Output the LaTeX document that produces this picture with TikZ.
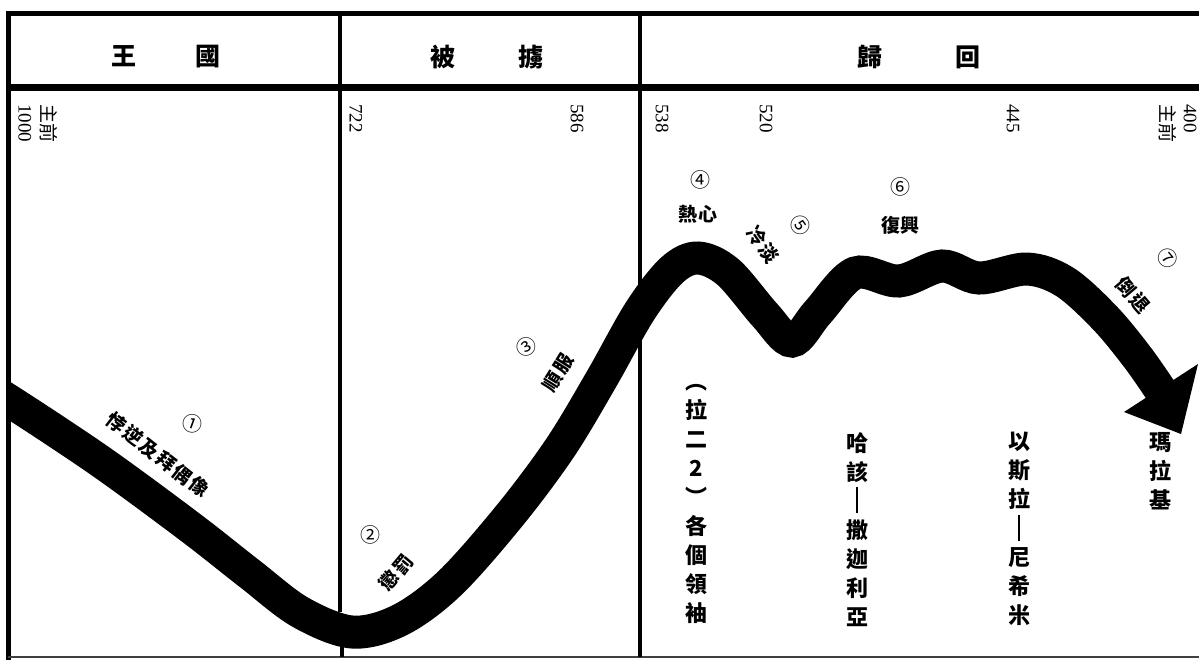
\documentclass[tikz,border=0pt]{standalone}
\usepackage{fontspec}
\setmainfont{Liberation Serif}
\newfontfamily\cjk{Noto Sans CJK TC}
\usetikzlibrary{positioning}
\tikzset{
  frame/.style={line width=2.5pt},
  divider/.style={line width=2pt},
  band/.style={line width=16.5pt},
  hdr/.style={font=\cjk\bfseries\fontsize{12.5}{12.5}\selectfont},
  yr/.style={rotate=-90,inner sep=0pt,align=left,font=\fontsize{9.5}{11.5}\selectfont},
  num/.style={inner sep=0pt,font=\cjk\fontsize{10}{10}\selectfont},
  lbl/.style={inner sep=0pt,font=\cjk\bfseries\fontsize{9.5}{9.5}\selectfont},
  col/.style={anchor=north,inner sep=0pt,align=center,font=\cjk\bfseries\fontsize{11}{14.5}\selectfont}
}
\newcommand{\vdashline}{\rule[-2pt]{1pt}{13pt}}
\newcommand{\gap}{\hspace{0.1em}}

\begin{document}
\begin{tikzpicture}[x=0.5pt,y=-0.5pt]
  \useasboundingbox (0,0) rectangle (1199,660);

  % frame and columns
  \draw[frame] (8,660) -- (8,13) -- (1199,13);
  \draw[line width=3.5pt] (8,87) -- (1199,87);
  \draw[line width=1pt,black!75] (8,657) -- (1199,657);
  \draw[divider] (340,12) -- (340,612);
  \draw[divider] (342,640) -- (342,657);
  \draw[divider] (640,12) -- (640,657);

  % headings
  \node[hdr] (kingdom) at (166,57) {王\hspace{2.4em}國};
  \node[hdr] (exile) at (487,57) {被\hspace{2.5em}擄};
  \node[hdr] (return) at (919,57) {歸\hspace{2.9em}回};

  % years
  \node[yr,anchor=north west] (y1000) at (58,104) {{\cjk 主前}\\1000};
  \node[yr,anchor=west] (y722) at (356,104) {722};
  \node[yr,anchor=west] (y586) at (577,104) {586};
  \node[yr,anchor=west] (y538) at (662,104) {538};
  \node[yr,anchor=west] (y520) at (766,104) {520};
  \node[yr,anchor=west] (y445) at (1013,104) {445};
  \node[yr,anchor=north west] (y400) at (1197,104) {400\\{\cjk 主前}};

  % the band
  \begin{scope}
    \clip (8,0) rectangle (1199,660);
    \draw[band] plot[smooth,tension=0.55] coordinates {
      (-30,378) (8,400) (100,461) (190,527) (250,574) (300,612) (352,632)
      (400,620) (450,583) (510,515) (560,448) (601,380) (640,311)
      (672,270) (698,258) (728,272) (765,315) (792,341) (818,312)
      (855,273) (899,281) (942,266) (979,278) (1027,269) (1065,282)
      (1105,318) (1138,358) (1163,394)};
  \end{scope}
  \fill (1124,412) -- (1181,434) -- (1198,364) -- cycle;

  % phases
  \node[num,rotate=-20] (n1) at (192,424) {①};
  \node[lbl,rotate=-38] (l1) at (158,455) {悖\gap 逆\gap 及\gap 拜\gap 偶\gap 像};
  \node[num] (n2) at (370,535) {②};
  \node[lbl,rotate=50] (l2) at (396,573) {懲\gap 罰};
  \node[num,rotate=30] (n3) at (526,347) {③};
  \node[lbl,rotate=58] (l3) at (558,373) {順\gap 服};
  \node[num] (n4) at (700,180) {④};
  \node[lbl] (l4) at (698,214) {熱\gap 心};
  \node[num,rotate=-55] (n5) at (800,225) {⑤};
  \node[lbl,rotate=-55] (l5) at (763,245) {冷\gap 淡};
  \node[num] (n6) at (900,187) {⑥};
  \node[lbl] (l6) at (900,225) {復興};
  \node[num,rotate=-50] (n7) at (1168,258) {⑦};
  \node[lbl,rotate=-50] (l7) at (1133,295) {倒\gap 退};

  % leaders
  \node[col] (leaders) at (696,384) {︵\\拉\\二\\2\\︶\\各\\個\\領\\袖};
  \node[col] (haggai) at (857,432) {哈\\該\\\vdashline\\撒\\迦\\利\\亞};
  \node[col] (ezra) at (1019,432) {以\\斯\\拉\\\vdashline\\尼\\希\\米};
  \node[col] (malachi) at (1160,432) {瑪\\拉\\基};
\end{tikzpicture}
\end{document}
